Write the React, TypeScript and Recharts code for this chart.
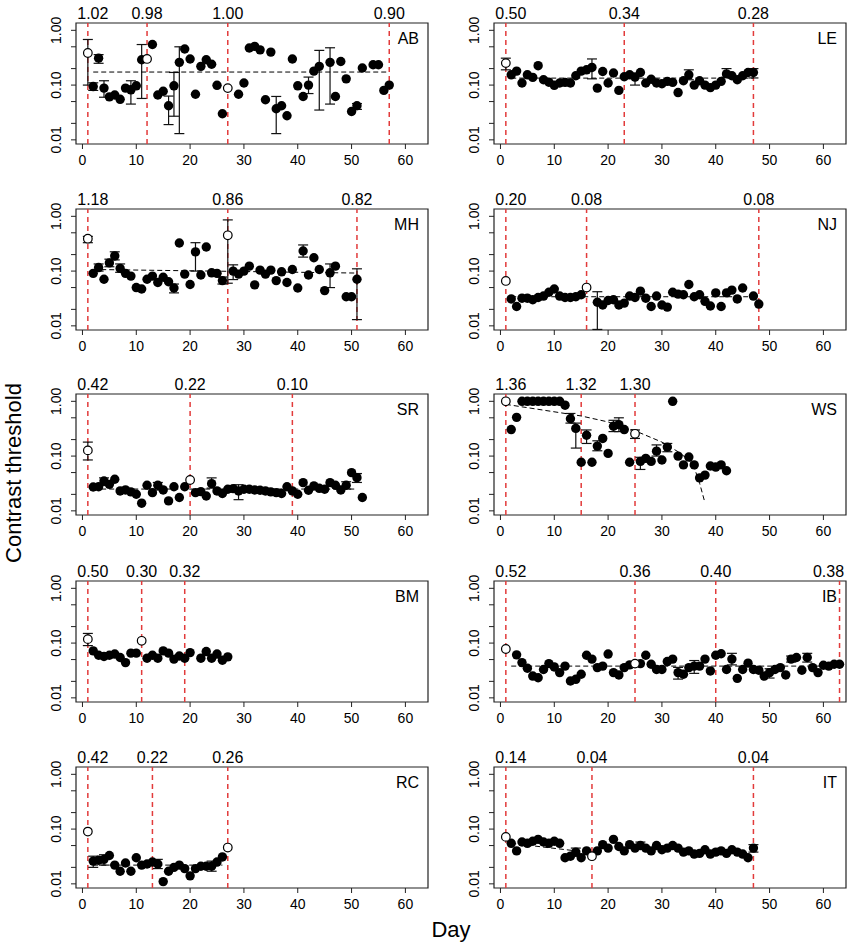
import React from "react";
import { ScatterChart, Scatter, XAxis, YAxis, ReferenceLine, ReferenceArea, ErrorBar } from "recharts";

const FONT = '"Liberation Sans", Arial, Helvetica, sans-serif';
const X_TICKS = [0, 10, 20, 30, 40, 50, 60];
const Y_TICKS = [0.01, 0.02, 0.05, 0.1, 0.2, 0.5, 1];
const Y_LABELLED = [0.01, 0.1, 1];
const X_DOMAIN = [-1.2, 64.2];
const Y_DOMAIN = [0.0084, 1.36];

// AB
const abValues = [0.385, 0.094, 0.31, 0.088, 0.061, 0.066, 0.055, 0.088, 0.082, 0.097, 0.29, 0.3, 0.55, 0.066, 0.077, 0.042, 0.097, 0.26, 0.455, 0.3, 0.068, 0.22, 0.29, 0.24, 0.099, 0.03, 0.088, null, 0.068, 0.109, 0.475, 0.51, 0.44, 0.054, 0.4, 0.037, 0.042, 0.0275, 0.3, 0.097, 0.062, 0.1, 0.18, 0.22, null, 0.26, 0.062, 0.27, 0.13, 0.033, 0.042, 0.205, null, 0.235, 0.235, 0.08, 0.1];
const abOpen = [1, 12, 27];
const abErrors = [[1, 0.1, 0.68], [2, 0.08, 0.11], [3, 0.25, 0.36], [4, 0.06, 0.12], [9, 0.045, 0.12], [11, 0.057, 0.55], [16, 0.019, 0.063], [17, 0.027, 0.17], [18, 0.013, 0.5], [36, 0.013, 0.062], [42, 0.07, 0.14], [44, 0.035, 0.43], [46, 0.045, 0.48], [51, 0.036, 0.046]];
const abSessions = [1, 12, 27, 57];
const abLabels = ["1.02", "0.98", "1.00", "0.90"];
const abTrend = [[2, 0.173], [57, 0.173]];

// LE
const leValues = [0.252, 0.154, 0.18, 0.109, 0.154, 0.138, 0.226, 0.125, 0.113, 0.099, 0.109, 0.112, 0.109, 0.148, 0.18, 0.19, 0.21, 0.088, 0.177, 0.109, 0.166, 0.08, 0.142, 0.154, 0.14, 0.17, 0.109, 0.128, 0.109, 0.106, 0.117, 0.112, 0.073, 0.12, 0.154, 0.1, 0.12, 0.1, 0.09, 0.1, 0.117, 0.16, 0.148, 0.125, 0.148, 0.17, 0.17];
const leOpen = [1];
const leErrors = [[1, 0.19, 0.31], [17, 0.13, 0.3], [25, 0.1, 0.165], [35, 0.125, 0.19], [42, 0.14, 0.2], [47, 0.135, 0.2]];
const leSessions = [1, 23, 47];
const leLabels = ["0.50", "0.34", "0.28"];
const leTrend = [[2, 0.134], [47, 0.134]];

// MH
const mhValues = [0.39, 0.091, 0.116, 0.071, 0.141, 0.189, 0.112, 0.091, 0.081, 0.05, 0.047, 0.071, 0.081, 0.062, 0.077, 0.064, 0.049, 0.325, 0.088, 0.057, 0.224, 0.085, 0.275, 0.093, 0.091, 0.067, 0.45, 0.1, 0.088, 0.1, 0.123, 0.056, 0.104, 0.088, 0.104, 0.067, 0.097, 0.062, 0.107, 0.049, 0.233, 0.085, 0.175, 0.107, 0.044, 0.093, 0.123, null, 0.034, 0.034, 0.071];
const mhOpen = [1, 27];
const mhErrors = [[1, 0.33, 0.43], [3, 0.1, 0.135], [5, 0.12, 0.165], [6, 0.16, 0.225], [7, 0.095, 0.135], [17, 0.04, 0.058], [21, 0.1, 0.33], [26, 0.058, 0.078], [27, 0.06, 0.86], [28, 0.07, 0.13], [41, 0.18, 0.3], [46, 0.05, 0.135], [51, 0.013, 0.11]];
const mhSessions = [1, 27, 51];
const mhLabels = ["1.18", "0.86", "0.82"];
const mhTrend = [[2, 0.107], [51, 0.092]];

// NJ
const njValues = [0.066, 0.031, 0.0226, 0.032, 0.032, 0.03, 0.033, 0.035, 0.041, 0.047, 0.035, 0.033, 0.033, 0.034, 0.037, 0.05, null, 0.027, 0.024, 0.029, 0.03, 0.024, 0.026, 0.035, 0.033, 0.043, 0.032, 0.0226, 0.035, 0.024, 0.022, 0.041, 0.038, 0.037, 0.057, 0.034, 0.037, 0.028, 0.023, 0.04, 0.0226, 0.04, 0.045, 0.031, 0.049, null, 0.035, 0.025];
const njOpen = [1, 16];
const njErrors = [[18, 0.0086, 0.042]];
const njSessions = [1, 16, 48];
const njLabels = ["0.20", "0.08", "0.08"];
const njTrend = [[2, 0.034], [46, 0.034]];

// SR
const srValues = [0.127, 0.0273, 0.0276, 0.0351, 0.0305, 0.0377, 0.0231, 0.0241, 0.0222, 0.0201, 0.0138, 0.0293, 0.0215, 0.0293, 0.0241, 0.0152, 0.0276, 0.0175, 0.0276, 0.0366, 0.0215, 0.0224, 0.0187, 0.0314, 0.0231, 0.0207, 0.0248, 0.0255, 0.0231, 0.0248, 0.0248, 0.0241, 0.0238, 0.0231, 0.0222, 0.0215, 0.0207, 0.0276, 0.0231, 0.0201, 0.0327, 0.0238, 0.0285, 0.0258, 0.0248, 0.0327, 0.0293, 0.0241, 0.0293, 0.0498, 0.0404, 0.0175];
const srOpen = [1, 20];
const srErrors = [[1, 0.085, 0.18], [4, 0.029, 0.04], [14, 0.024, 0.033], [24, 0.026, 0.04], [29, 0.016, 0.03], [49, 0.025, 0.034], [51, 0.033, 0.048]];
const srSessions = [1, 20, 39];
const srLabels = ["0.42", "0.22", "0.10"];
const srTrend = [[2, 0.025], [51, 0.025]];

// WS
const wsValues = [1, 0.305, 0.51, 1, 1, 1, 1, 1, 1, 1, 1, 0.85, 0.48, 0.32, 0.077, 0.24, 0.077, 0.152, 0.21, 0.112, 0.35, 0.375, 0.305, 0.077, 0.255, 0.08, 0.091, 0.08, 0.123, 0.085, 0.146, 1, 0.1, 0.069, 0.096, 0.069, 0.04, 0.045, 0.066, 0.063, 0.069, 0.054];
const wsOpen = [1, 25];
const wsErrors = [[13, 0.4, 0.6], [14, 0.14, 0.4], [16, 0.17, 0.3], [18, 0.125, 0.19], [21, 0.28, 0.45], [22, 0.28, 0.5], [25, 0.21, 0.3], [26, 0.057, 0.095], [29, 0.1, 0.16], [31, 0.12, 0.17]];
const wsSessions = [1, 15, 25];
const wsLabels = ["1.36", "1.32", "1.30"];
const wsTrend = [[1, 0.88], [8, 0.69], [15, 0.54], [20, 0.42], [25, 0.29], [30, 0.18], [33, 0.12], [35, 0.085], [36, 0.062], [37, 0.032], [38, 0.014]];

// BM
const bmValues = [0.118, 0.072, 0.06, 0.057, 0.06, 0.063, 0.0545, 0.044, 0.0655, 0.0655, 0.11, 0.053, 0.06, 0.053, 0.072, 0.0655, 0.051, 0.058, 0.053, 0.067, null, 0.053, 0.07, 0.053, 0.063, 0.0487, 0.056];
const bmOpen = [1, 11];
const bmErrors = [[1, 0.09, 0.15]];
const bmSessions = [1, 11, 19];
const bmLabels = ["0.50", "0.30", "0.32"];
const bmTrend = [];

// IB
const ibValues = [0.078, null, 0.061, 0.044, 0.0347, 0.025, 0.0233, 0.033, 0.0422, 0.0367, 0.0289, 0.038, 0.0203, 0.0218, 0.027, 0.06, 0.051, 0.0357, 0.038, 0.063, 0.0289, 0.0262, 0.0357, 0.04, 0.0422, 0.0422, 0.06, 0.041, 0.033, 0.033, 0.046, 0.051, 0.0289, 0.027, 0.0357, 0.038, 0.038, 0.051, 0.031, 0.06, 0.064, 0.033, 0.051, 0.0227, 0.033, 0.043, 0.033, 0.032, 0.025, 0.0289, 0.033, 0.0357, 0.0262, 0.051, 0.0545, 0.032, 0.0545, 0.0357, 0.0289, 0.0394, 0.038, 0.041, 0.041];
const ibOpen = [1, 25];
const ibErrors = [[33, 0.022, 0.036], [36, 0.028, 0.048], [43, 0.04, 0.065], [50, 0.023, 0.034], [54, 0.045, 0.058], [57, 0.045, 0.065]];
const ibSessions = [1, 25, 40, 63];
const ibLabels = ["0.52", "0.36", "0.40", "0.38"];
const ibTrend = [[2, 0.038], [63, 0.038]];

// RC
const rcValues = [0.09, 0.026, 0.027, 0.028, 0.033, 0.022, 0.017, 0.024, 0.017, 0.03, 0.022, 0.023, 0.025, 0.023, 0.011, 0.017, 0.02, 0.022, 0.019, 0.014, 0.019, 0.021, 0.021, 0.021, 0.025, 0.031, 0.046];
const rcOpen = [1, 27];
const rcErrors = [[2, 0.02, 0.032], [4, 0.022, 0.034], [14, 0.019, 0.028], [24, 0.017, 0.026]];
const rcSessions = [1, 13, 27];
const rcLabels = ["0.42", "0.22", "0.26"];
const rcTrend = [[2, 0.022], [26, 0.022]];

// IT
const itValues = [0.072, 0.055, 0.04, 0.058, 0.055, 0.06, 0.065, 0.058, 0.055, 0.06, 0.055, 0.03, 0.032, 0.038, 0.03, 0.04, 0.032, 0.04, 0.052, 0.045, 0.065, 0.048, 0.04, 0.052, 0.045, 0.05, 0.045, 0.04, 0.05, 0.042, 0.045, 0.05, 0.045, 0.038, 0.04, 0.035, 0.036, 0.042, 0.035, 0.038, 0.04, 0.036, 0.042, 0.038, 0.035, 0.03, 0.045];
const itOpen = [1, 17];
const itErrors = [[14, 0.032, 0.045], [26, 0.043, 0.058], [47, 0.038, 0.052]];
const itSessions = [1, 17, 47];
const itLabels = ["0.14", "0.04", "0.04"];
const itTrend = [[2, 0.055], [17, 0.037]];

const panels = [
  { name: "AB", values: abValues, open: abOpen, errors: abErrors, sessions: abSessions, labels: abLabels, trend: abTrend },
  { name: "LE", values: leValues, open: leOpen, errors: leErrors, sessions: leSessions, labels: leLabels, trend: leTrend },
  { name: "MH", values: mhValues, open: mhOpen, errors: mhErrors, sessions: mhSessions, labels: mhLabels, trend: mhTrend },
  { name: "NJ", values: njValues, open: njOpen, errors: njErrors, sessions: njSessions, labels: njLabels, trend: njTrend },
  { name: "SR", values: srValues, open: srOpen, errors: srErrors, sessions: srSessions, labels: srLabels, trend: srTrend },
  { name: "WS", values: wsValues, open: wsOpen, errors: wsErrors, sessions: wsSessions, labels: wsLabels, trend: wsTrend },
  { name: "BM", values: bmValues, open: bmOpen, errors: bmErrors, sessions: bmSessions, labels: bmLabels, trend: bmTrend },
  { name: "IB", values: ibValues, open: ibOpen, errors: ibErrors, sessions: ibSessions, labels: ibLabels, trend: ibTrend },
  { name: "RC", values: rcValues, open: rcOpen, errors: rcErrors, sessions: rcSessions, labels: rcLabels, trend: rcTrend },
  { name: "IT", values: itValues, open: itOpen, errors: itErrors, sessions: itSessions, labels: itLabels, trend: itTrend },
];

const COL_LEFT = [0, 418];
const ROW_TOP = [-17, 169, 354, 541, 727];
const PLOT_LEFT = 76;
const RED = "#e23b3b";

function buildPoints(values, open, errors) {
  const errMap = new Map(errors.map(([d, lo, hi]) => [d, [lo, hi]]));
  const out = [];
  values.forEach((v, i) => {
    if (v === null) return;
    const day = i + 1;
    const e = errMap.get(day);
    out.push({ day, v, open: open.includes(day), err: e ? [v - e[0], e[1] - v] : undefined });
  });
  return out;
}

const XTick = (props: any) => {
  const { x, y, payload } = props;
  return (
    <text x={x} y={y + 16} textAnchor="middle" fontSize={14} fontFamily={FONT} fill="#000">
      {payload.value}
    </text>
  );
};

const YTick = (props: any) => {
  const { y, payload } = props;
  if (!Y_LABELLED.some((t) => Math.abs(t - payload.value) < 1e-9)) return <g />;
  const lx = PLOT_LEFT - 20;
  return (
    <text x={lx} y={y} transform={`rotate(-90 ${lx} ${y})`} textAnchor="middle" dominantBaseline="central" fontSize={14} fontFamily={FONT} fill="#000">
      {payload.value.toFixed(2)}
    </text>
  );
};

const TopLabel = (props: any) => {
  const { viewBox, text, shift } = props;
  if (!viewBox) return null;
  return (
    <text x={viewBox.x + shift} y={viewBox.y - 4} textAnchor="middle" fontSize={16} fontFamily={FONT} fill="#000">
      {text}
    </text>
  );
};

const NameLabel = (props: any) => {
  const { viewBox, name } = props;
  if (!viewBox) return null;
  return (
    <text x={viewBox.x + viewBox.width - 9} y={viewBox.y + 21} textAnchor="end" fontSize={16} fontFamily={FONT} fill="#000">
      {name}
    </text>
  );
};

const FilledDot = (props: any) => <circle cx={props.cx} cy={props.cy} r={4.7} fill="#000" />;
const OpenDot = (props: any) => <circle cx={props.cx} cy={props.cy} r={4.3} fill="#fff" stroke="#000" strokeWidth={1.2} />;

function Panel({ p, left, top }: any) {
  const pts = buildPoints(p.values, p.open, p.errors);
  const filled = pts.filter((d) => !d.open);
  const hollow = pts.filter((d) => d.open);
  const trend = p.trend.map(([day, v]) => ({ day, v }));
  return (
    <div style={{ position: "absolute", left, top }}>
      <ScatterChart width={430} height={186} margin={{ top: 40, right: 2, bottom: 0, left: 40 }}>
        <XAxis type="number" dataKey="day" domain={X_DOMAIN} ticks={X_TICKS} allowDataOverflow axisLine={false} tickSize={5} tickMargin={0} height={25} interval={0} tick={<XTick />} tickLine={{ stroke: "#222" }} />
        <YAxis type="number" dataKey="v" scale="log" domain={Y_DOMAIN} ticks={Y_TICKS} allowDataOverflow axisLine={false} tickSize={5} tickMargin={0} width={36} interval={0} tick={<YTick />} tickLine={{ stroke: "#222" }} />
        <ReferenceArea x1={X_DOMAIN[0]} x2={X_DOMAIN[1]} y1={Y_DOMAIN[0]} y2={Y_DOMAIN[1]} fill="none" fillOpacity={0} stroke="#222" strokeWidth={1.2} ifOverflow="visible" label={<NameLabel name={p.name} />} />
        {p.sessions.map((d, i) => (
          <ReferenceLine
            key={`s-${d}`}
            x={d}
            stroke={RED}
            strokeWidth={1.5}
            strokeDasharray="5 4"
            label={<TopLabel text={p.labels[i]} shift={i === 0 ? 5 : d > 60 ? -11 : 0} />}
          />
        ))}
        {trend.length > 0 && (
          <Scatter data={trend} line={{ stroke: "#000", strokeWidth: 1, strokeDasharray: "5 3" }} shape={() => <g />} isAnimationActive={false} />
        )}
        <Scatter data={filled} shape={FilledDot} isAnimationActive={false}>
          <ErrorBar dataKey="err" direction="y" width={5} stroke="#111" strokeWidth={1.2} isAnimationActive={false} />
        </Scatter>
        <Scatter data={hollow} shape={OpenDot} isAnimationActive={false}>
          <ErrorBar dataKey="err" direction="y" width={5} stroke="#111" strokeWidth={1.2} isAnimationActive={false} />
        </Scatter>
      </ScatterChart>
    </div>
  );
}

export default function App() {
  return (
    <div style={{ position: "absolute", left: 0, top: 0, width: 851, height: 946, background: "#fff", fontFamily: FONT }}>
      <svg width={851} height={946} style={{ position: "absolute", left: 0, top: 0 }}>
        <text x={13} y={473} transform="rotate(-90 13 473)" textAnchor="middle" dominantBaseline="central" fontSize={22} fontFamily={FONT} fill="#000">
          Contrast threshold
        </text>
        <text x={451} y={937} textAnchor="middle" fontSize={22} fontFamily={FONT} fill="#000">
          Day
        </text>
      </svg>
      {panels.map((p, i) => (
        <Panel key={p.name} p={p} left={COL_LEFT[i % 2]} top={ROW_TOP[Math.floor(i / 2)]} />
      ))}
    </div>
  );
}
